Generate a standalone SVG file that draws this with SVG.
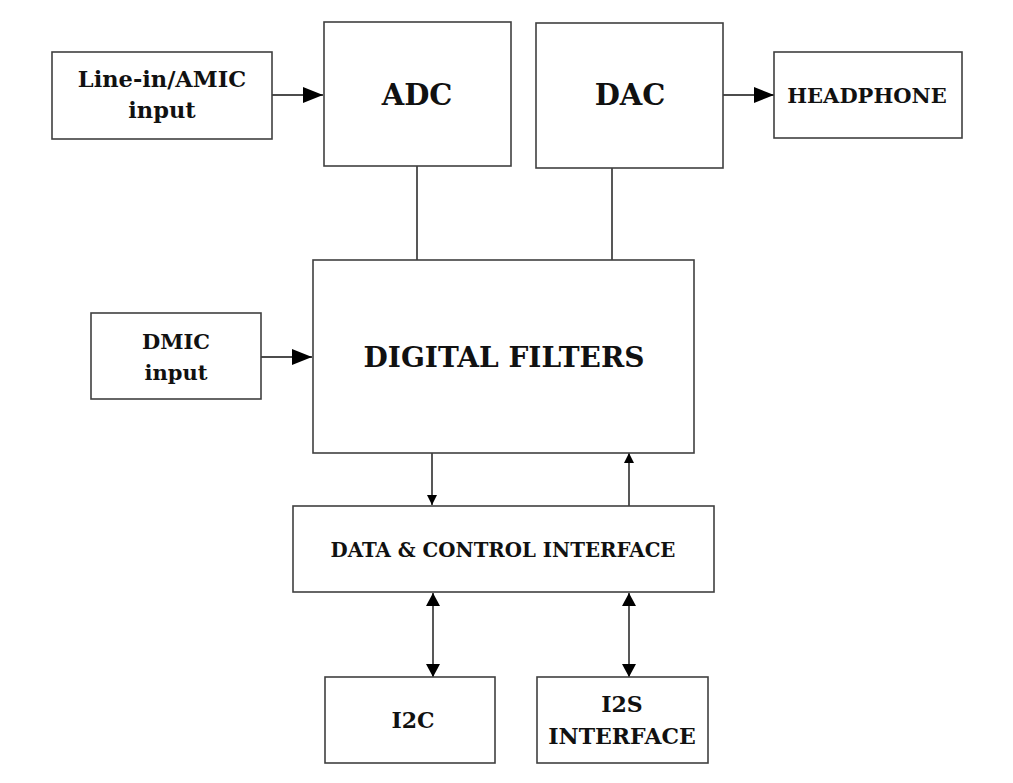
<svg xmlns="http://www.w3.org/2000/svg" width="1013" height="783" viewBox="0 0 1013 783">
<style>
.box{fill:#fff;stroke:#404040;stroke-width:1.6}
.t{font-family:"DejaVu Serif","Liberation Serif",serif;font-weight:bold;fill:#111;text-anchor:middle}
.ln{fill:none;stroke:#111;stroke-width:1.4}
</style>
<defs>
<marker id="big" markerUnits="userSpaceOnUse" markerWidth="20" markerHeight="16" refX="20" refY="8" orient="auto"><path d="M0,0 L20,8 L0,16 Z" fill="#000"/></marker>
<marker id="sm" markerUnits="userSpaceOnUse" markerWidth="10" markerHeight="10" refX="10" refY="5" orient="auto"><path d="M0,0 L10,5 L0,10 Z" fill="#000"/></marker>
<marker id="md" markerUnits="userSpaceOnUse" markerWidth="13" markerHeight="14" refX="13" refY="7" orient="auto-start-reverse"><path d="M0,0 L13,7 L0,14 Z" fill="#000"/></marker>
</defs>
<rect width="1013" height="783" fill="#fff"/>
<g id="connectors">
<line class="ln" x1="272" y1="95" x2="323" y2="95" marker-end="url(#big)"/>
<line class="ln" x1="723" y1="95" x2="774" y2="95" marker-end="url(#big)"/>
<line class="ln" x1="261" y1="357" x2="312" y2="357" marker-end="url(#big)"/>
<line class="ln" x1="417" y1="166" x2="417" y2="260"/>
<line class="ln" x1="612" y1="168" x2="612" y2="260"/>
<line class="ln" x1="432" y1="453" x2="432" y2="505" marker-end="url(#sm)"/>
<line class="ln" x1="629" y1="506" x2="629" y2="453" marker-end="url(#sm)"/>
<line class="ln" x1="433" y1="593" x2="433" y2="677" marker-start="url(#md)" marker-end="url(#md)"/>
<line class="ln" x1="629" y1="593" x2="629" y2="677" marker-start="url(#md)" marker-end="url(#md)"/>
</g>
<g id="linein">
<rect class="box" x="52" y="52" width="220" height="87"/>
<text class="t" x="162" y="87" font-size="22.5">Line-in/AMIC</text>
<text class="t" x="162" y="118" font-size="22.5">input</text>
</g>
<g id="adc">
<rect class="box" x="324" y="22" width="187" height="144"/>
<text class="t" x="417" y="105" font-size="29">ADC</text>
</g>
<g id="dac">
<rect class="box" x="536" y="23" width="187" height="145"/>
<text class="t" x="630" y="105" font-size="29">DAC</text>
</g>
<g id="headphone">
<rect class="box" x="774" y="52" width="188" height="86"/>
<text class="t" x="867" y="103" font-size="21">HEADPHONE</text>
</g>
<g id="dmic">
<rect class="box" x="91" y="313" width="170" height="86"/>
<text class="t" x="176" y="349" font-size="21">DMIC</text>
<text class="t" x="176" y="380" font-size="21">input</text>
</g>
<g id="digital-filters">
<rect class="box" x="313" y="260" width="381" height="193"/>
<text class="t" x="504" y="367" font-size="28">DIGITAL FILTERS</text>
</g>
<g id="data-control">
<rect class="box" x="293" y="506" width="421" height="86"/>
<text class="t" x="503" y="557" font-size="19.8">DATA &amp; CONTROL INTERFACE</text>
</g>
<g id="i2c">
<rect class="box" x="325" y="677" width="170" height="86"/>
<text class="t" x="413" y="728" font-size="22">I2C</text>
</g>
<g id="i2s">
<rect class="box" x="537" y="677" width="171" height="86"/>
<text class="t" x="622" y="712" font-size="22">I2S</text>
<text class="t" x="622" y="744" font-size="22">INTERFACE</text>
</g>
</svg>
